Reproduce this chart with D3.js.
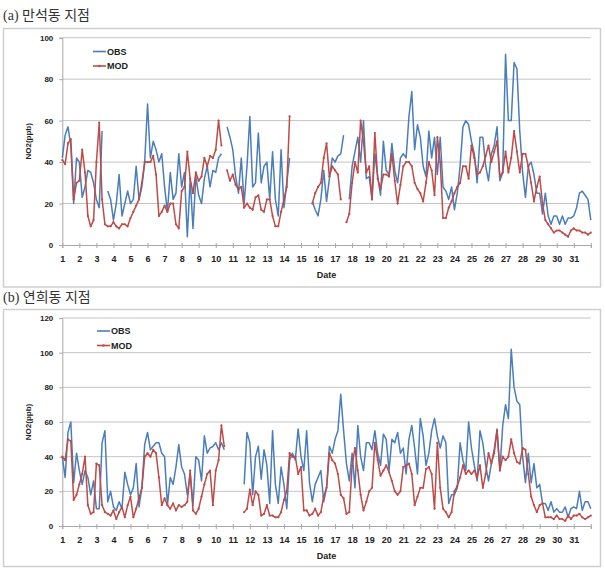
<!DOCTYPE html>
<html><head><meta charset="utf-8">
<script src="https://cdn.jsdelivr.net/npm/d3@7"></script>
<style>body{margin:0;background:#fff} svg{display:block}</style>
</head><body>
<svg id="c" width="605" height="574"></svg>
<script>
// ---- data: NO2 (ppb), one value every 4 hours (6 per day), from day 1 00h to day 32 00h ----
const stepsPerDay = 6;
const dayLabels = d3.range(1, 32);
const seriesNames = ["OBS", "MOD"];
const yTicksA = [0, 20, 40, 60, 80, 100];
const yTicksB = [0, 20, 40, 60, 80, 100, 120];
const titles = ["(a) 만석동 지점", "(b) 연희동 지점"];

const obsA = [
 42,53,57,48,20,42, 40,23,28,36,35,30, 22,18,55,null,26,22, 12,20,34,14,20,26,
 20,22,38,22,28,40, 68,42,50,46,40,44, 28,16,35,22,25,44, 28,35,4,32,8,33,
 24,20,32,38,28,36, 35,42,44,null,57,52, 46,33,25,42,20,38, 62,28,30,54,30,38,
 40,22,45,22,14,46, 18,30,42,null,null,null, null,null,null,null,21,17, 14,22,36,21,32,42,
 40,43,44,53,null,22, 38,45,52,40,60,32, 33,22,44,33,24,50, 36,34,49,36,30,42,
 44,42,62,74,46,58, 52,38,33,55,42,52, 34,52,28,26,22,28, 17,25,38,57,60,58,
 50,44,30,52,52,38, 31,44,48,57,31,35, 92,60,60,88,85,55, 35,23,38,40,34,25,
 25,15,25,14,10,14, 14,10,14,10,13,13, 14,18,25,26,24,22, 12
];
const modA = [
 41,39,49,51,22,30, 31,46,35,14,9,12, 40,59,22,10,9,9, 11,9,8,10,10,9,
 13,16,19,22,30,40, 40,40,43,34,14,16, 19,16,20,20,10,8, 26,28,45,32,25,35,
 31,33,42,38,43,42, 46,60,48,null,36,31, 34,29,27,28,18,20, 18,17,23,24,17,16,
 22,22,14,9,9,16, 22,28,62,null,null,null, null,null,null,null,20,25, 28,30,42,49,33,38,
 36,34,22,null,11,15, 30,40,35,60,50,35, 38,22,54,32,27,34, 34,33,44,31,20,29,
 38,40,40,38,30,27, 25,21,30,40,36,24, 52,40,13,13,18,21, 25,28,30,38,38,32,
 48,42,34,35,38,43, 48,40,45,50,33,35, 45,35,42,55,45,35, 44,44,38,30,21,28,
 33,20,12,10,8,6, 7,7,6,5,4,7, 8,7,7,6,6,5, 6
];
const obsB = [
 40,28,54,60,25,42, 32,24,32,28,18,26, 10,10,48,55,14,20, 11,9,14,10,31,24,
 18,22,36,11,22,47, 54,44,46,48,48,42, 40,12,28,24,34,47, 34,30,18,30,12,40,
 38,26,52,42,45,46, 48,44,48,44,null,null, null,null,null,null,24,54, 48,18,40,46,27,44,
 35,13,55,24,13,34, 24,10,38,42,38,56, 40,32,55,25,14,24, 28,32,14,22,46,42,
 50,55,76,55,36,26, 42,22,58,40,32,48, 48,44,55,42,35,53, 50,32,50,48,54,42,
 45,30,50,58,45,30, 62,52,35,42,55,62, 52,45,52,48,13,18, 18,22,48,38,32,60,
 45,35,26,55,48,35, 26,36,44,56,32,58, 70,62,102,80,72,70, 40,25,42,25,36,22,
 24,13,13,9,14,8, 10,8,8,11,5,10, 11,10,20,9,14,14, 10
];
const modB = [
 40,38,50,49,15,18, 24,30,40,12,7,8, 36,35,12,8,7,6, 9,4,8,11,5,12,
 17,5,10,16,22,40, 42,40,44,42,28,12, 16,12,10,13,9,12, 11,12,14,32,9,7,
 10,17,24,30,32,12, 32,38,58,46,null,null, null,null,null,null,8,10, 21,12,20,18,6,7,
 12,6,6,5,5,8, 15,20,42,40,40,30, 34,9,9,6,7,10, 6,8,17,22,42,38,
 36,30,18,16,7,8, 35,45,32,18,9,14, 20,22,48,38,29,32, 35,31,26,20,18,20,
 34,35,36,30,12,17, 22,22,33,34,30,10, 48,22,10,8,5,8, 20,23,28,35,30,32,
 30,32,28,35,22,30, 42,36,42,55,32,40, 38,40,50,42,37,36, 45,44,30,17,12,8,
 12,13,5,5,5,4, 6,4,4,3,6,4, 6,6,7,5,4,5, 6
];

const colors = { OBS: "#4a7ebb", MOD: "#be4b48" };
const svg = d3.select("#c");
const tickFont = "'Liberation Sans', Arial, sans-serif";

function drawPanel(cfg) {
  const g = svg.append("g");
  // title
  g.append("text").attr("x", 3).attr("y", cfg.titleY)
    .attr("font-family", "'Liberation Serif', 'Noto Sans CJK KR', serif")
    .attr("font-size", 14).attr("fill", "#333").text(cfg.title);
  // chart border
  g.append("rect").attr("x", 3.5).attr("y", cfg.boxTop + 0.5)
    .attr("width", 597).attr("height", cfg.boxBottom - cfg.boxTop)
    .attr("fill", "none").attr("stroke", "#cfcfcf").attr("stroke-width", 1.5);

  const x = d3.scaleLinear().domain([1, 32]).range([62.3, 590.8]);
  const y = d3.scaleLinear().domain([0, cfg.yMax]).range([cfg.plotBottom, cfg.plotTop]);

  // gridlines
  g.append("g").selectAll("line").data(cfg.yTicks.filter(t => t > 0)).join("line")
    .attr("x1", x(1)).attr("x2", x(32))
    .attr("y1", d => y(d)).attr("y2", d => y(d))
    .attr("stroke", "#c4c4c4").attr("stroke-width", 1);

  // y axis
  const ya = g.append("g").attr("transform", `translate(${x(1)},0)`)
    .call(d3.axisLeft(y).tickValues(cfg.yTicks).tickSize(3).tickPadding(6));
  ya.select(".domain").attr("stroke", "#a8a8a8");
  ya.selectAll(".tick line").attr("stroke", "#a8a8a8");
  ya.selectAll("text").attr("font-family", tickFont).attr("font-weight", "bold")
    .attr("font-size", 8).attr("fill", "#222");

  // x axis
  const xa = g.append("g").attr("transform", `translate(0,${y(0)})`)
    .call(d3.axisBottom(x).tickValues(d3.range(1, 33))
      .tickFormat(d => dayLabels.includes(d) ? d : "").tickSize(3).tickPadding(8));
  xa.select(".domain").attr("stroke", "#a8a8a8");
  xa.selectAll(".tick line").attr("stroke", "#a8a8a8").attr("y1", -2);
  xa.selectAll("text").attr("font-family", tickFont).attr("font-weight", "bold")
    .attr("font-size", 9).attr("fill", "#222");

  // axis titles
  g.append("text").attr("x", (x(1) + x(32)) / 2).attr("y", y(0) + 33)
    .attr("text-anchor", "middle").attr("font-family", tickFont).attr("font-weight", "bold")
    .attr("font-size", 9).attr("fill", "#222").text("Date");
  g.append("text")
    .attr("transform", `translate(28,${(cfg.plotTop + cfg.plotBottom) / 2}) rotate(-90)`)
    .attr("text-anchor", "middle").attr("dominant-baseline", "central")
    .attr("font-family", tickFont).attr("font-weight", "bold")
    .attr("font-size", 8).attr("fill", "#222").text("NO2(ppb)");

  const line = d3.line().defined(d => d != null)
    .x((d, i) => x(1 + i / stepsPerDay)).y(d => y(d));

  const series = [{ name: "OBS", values: cfg.obs }, { name: "MOD", values: cfg.mod }];
  series.forEach(s => {
    g.append("path").datum(s.values).attr("d", line)
      .attr("fill", "none").attr("stroke", colors[s.name])
      .attr("stroke-width", 1.5).attr("stroke-linejoin", "round");
  });
  // small markers on MOD
  g.append("g").selectAll("circle")
    .data(cfg.mod.map((v, i) => ({ v, i })).filter(d => d.v != null)).join("circle")
    .attr("cx", d => x(1 + d.i / stepsPerDay)).attr("cy", d => y(d.v))
    .attr("r", 1.1).attr("fill", colors.MOD);

  // legend
  seriesNames.forEach((n, k) => {
    const ly = cfg.legY + k * 14.5;
    g.append("line").attr("x1", cfg.legX).attr("x2", cfg.legX + 13)
      .attr("y1", ly).attr("y2", ly).attr("stroke", colors[n]).attr("stroke-width", 1.6);
    if (n === "MOD") g.append("circle").attr("cx", cfg.legX + 6.5).attr("cy", ly)
      .attr("r", 1.2).attr("fill", colors[n]);
    g.append("text").attr("x", cfg.legX + 14).attr("y", ly)
      .attr("dominant-baseline", "central").attr("font-family", tickFont)
      .attr("font-weight", "bold").attr("font-size", 9).attr("fill", "#222").text(n);
  });
}

drawPanel({ title: titles[0], titleY: 20, boxTop: 28, boxBottom: 286.5,
  plotTop: 37.7, plotBottom: 245, yMax: 100, yTicks: yTicksA,
  obs: obsA, mod: modA, legX: 93, legY: 51.5 });
drawPanel({ title: titles[1], titleY: 302, boxTop: 309, boxBottom: 566,
  plotTop: 318, plotBottom: 526, yMax: 120, yTicks: yTicksB,
  obs: obsB, mod: modB, legX: 97, legY: 331 });
</script>
</body></html>
